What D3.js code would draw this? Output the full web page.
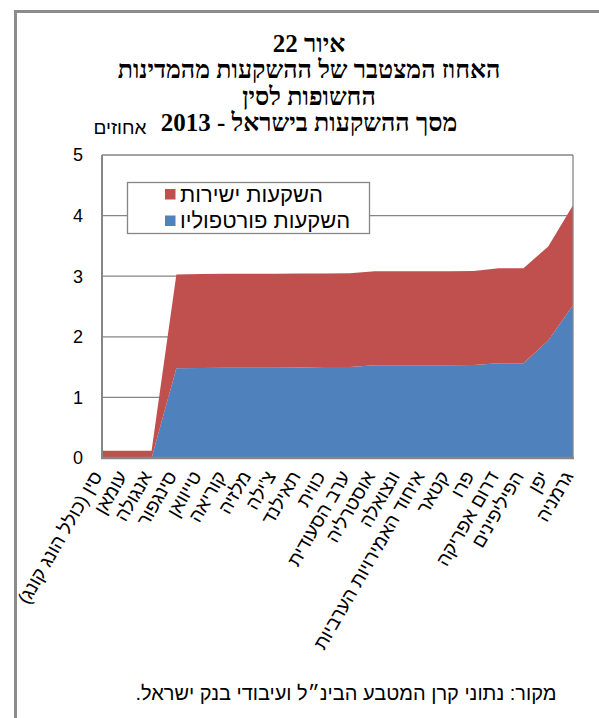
<!DOCTYPE html>
<html lang="he">
<head>
<meta charset="utf-8">
<script src="https://cdn.jsdelivr.net/npm/d3@7"></script>
<style>
body { margin: 0; background: #fff; }
svg { display: block; }
text { font-family: "Liberation Sans", "DejaVu Sans", sans-serif; fill: #000; }
.title { font-family: "Liberation Serif", "DejaVu Serif", serif; font-weight: bold; font-size: 25px; }
</style>
</head>
<body>
<svg id="chart" width="599" height="718"></svg>
<script>
/*==========================
 data
===========================*/
var countries = ["סין (כולל הונג קונג)", "עומאן", "אנגולה", "סינגפור", "טייוואן", "קוריאה", "מלזיה",
    "צ'ילה", "תאילנד", "כווית", "ערב הסעודית", "אוסטרליה", "ונצואלה", "איחוד האמירויות הערביות",
    "קטאר", "פרו", "דרום אפריקה", "הפיליפינים", "יפן", "גרמניה"];
// portfolio investments (blue, bottom layer)
var portfolio = [0, 0, 0, 1.48, 1.485, 1.49, 1.49, 1.49, 1.495, 1.50, 1.50, 1.53, 1.53, 1.53, 1.53, 1.535, 1.565, 1.565, 1.94, 2.52];
// direct investments (red, stacked on top)
var direct = [0.12, 0.12, 0.12, 1.55, 1.55, 1.55, 1.55, 1.55, 1.55, 1.545, 1.55, 1.55, 1.55, 1.55, 1.55, 1.55, 1.565, 1.565, 1.55, 1.65];
var yTicks = [0, 1, 2, 3, 4, 5];
var titleLines = ["איור 22", "האחוז המצטבר של ההשקעות מהמדינות", "החשופות לסין", "מסך ההשקעות בישראל - 2013"];
var seriesNames = ["השקעות ישירות", "השקעות פורטפוליו"];
var yUnit = "אחוזים";
var sourceText = "מקור: נתוני קרן המטבע הבינ״ל ועיבודי בנק ישראל.";

var colors = { direct: "#C0504D", portfolio: "#4F81BD", grid: "#868686" };

/*==========================
 layout
===========================*/
var svg = d3.select("#chart");
var plot = { left: 102, right: 573, top: 155, bottom: 458 };

var x = d3.scalePoint()
    .domain(d3.range(countries.length))
    .range([plot.left, plot.right]);

var y = d3.scaleLinear()
    .domain([0, 5])
    .range([plot.bottom, plot.top]);

// outer frame (top and left visible)
svg.append("path")
    .attr("d", "M15.5,718 V11.5 H599")
    .attr("fill", "none")
    .attr("stroke", "#8c8c8c")
    .attr("stroke-width", 3);

// title
svg.append("g").selectAll("text")
    .data(titleLines)
    .enter().append("text")
    .attr("class", "title")
    .attr("direction", "rtl")
    .attr("text-anchor", "middle")
    .attr("x", 309)
    .attr("y", function (d, i) { return 52 + i * 26.4; })
    .text(function (d) { return d; });

// unit label
svg.append("text")
    .attr("direction", "rtl")
    .attr("text-anchor", "middle")
    .attr("x", 120)
    .attr("y", 134)
    .style("font-size", "19px")
    .text(yUnit);

/*==========================
 grid + areas
===========================*/
svg.append("g").selectAll("line")
    .data(yTicks)
    .enter().append("line")
    .attr("x1", plot.left).attr("x2", plot.right)
    .attr("y1", function (d) { return y(d); })
    .attr("y2", function (d) { return y(d); })
    .attr("stroke", colors.grid)
    .attr("stroke-width", 1.3);

var rows = countries.map(function (c, i) {
    return { i: i, portfolio: portfolio[i], direct: direct[i] };
});
var stacked = d3.stack().keys(["portfolio", "direct"])(rows);

var area = d3.area()
    .x(function (d) { return x(d.data.i); })
    .y0(function (d) { return y(d[0]); })
    .y1(function (d) { return y(d[1]); });

svg.append("g").selectAll("path")
    .data(stacked)
    .enter().append("path")
    .attr("d", area)
    .attr("fill", function (d) { return colors[d.key]; });

// plot border + axes
svg.append("line")
    .attr("x1", plot.right).attr("x2", plot.right)
    .attr("y1", plot.top).attr("y2", plot.bottom)
    .attr("stroke", colors.grid).attr("stroke-width", 1.3);
svg.append("line")
    .attr("x1", plot.left).attr("x2", plot.left)
    .attr("y1", plot.top).attr("y2", plot.bottom + 1)
    .attr("stroke", colors.grid).attr("stroke-width", 2);
svg.append("line")
    .attr("x1", plot.left - 1).attr("x2", plot.right + 1)
    .attr("y1", plot.bottom).attr("y2", plot.bottom)
    .attr("stroke", colors.grid).attr("stroke-width", 2.5);

// y tick labels
svg.append("g").selectAll("text")
    .data(yTicks)
    .enter().append("text")
    .attr("text-anchor", "end")
    .attr("x", 83)
    .attr("y", function (d) { return y(d); })
    .attr("dy", "0.35em")
    .style("font-size", "18px")
    .text(function (d) { return d; });

// x tick labels, rotated
svg.append("g").selectAll("text")
    .data(countries)
    .enter().append("text")
    .attr("direction", "rtl")
    .attr("text-anchor", "start")
    .attr("transform", function (d, i) {
        return "translate(" + (x(i) + 1) + ",476) rotate(-60)";
    })
    .style("font-size", "19px")
    .text(function (d) { return d; });

/*==========================
 legend
===========================*/
var legend = svg.append("g");
legend.append("rect")
    .attr("x", 127.5).attr("y", 182.5)
    .attr("width", 242).attr("height", 51)
    .attr("fill", "#fff")
    .attr("stroke", colors.grid)
    .attr("stroke-width", 1.3);

var legendItems = [
    { name: seriesNames[0], color: colors.direct },
    { name: seriesNames[1], color: colors.portfolio }
];
legendItems.forEach(function (d, i) {
    var cy = 194.5 + i * 26.5;
    legend.append("rect")
        .attr("x", 165).attr("y", cy - 5.5)
        .attr("width", 10.5).attr("height", 10.5)
        .attr("fill", d.color);
    legend.append("text")
        .attr("direction", "rtl")
        .attr("text-anchor", "end")
        .attr("x", 180)
        .attr("y", cy + 7)
        .style("font-size", "22px")
        .text(d.name);
});

// source note
svg.append("text")
    .attr("direction", "rtl")
    .attr("text-anchor", "middle")
    .attr("x", 346)
    .attr("y", 700)
    .style("font-size", "20px")
    .text(sourceText);
</script>
</body>
</html>
